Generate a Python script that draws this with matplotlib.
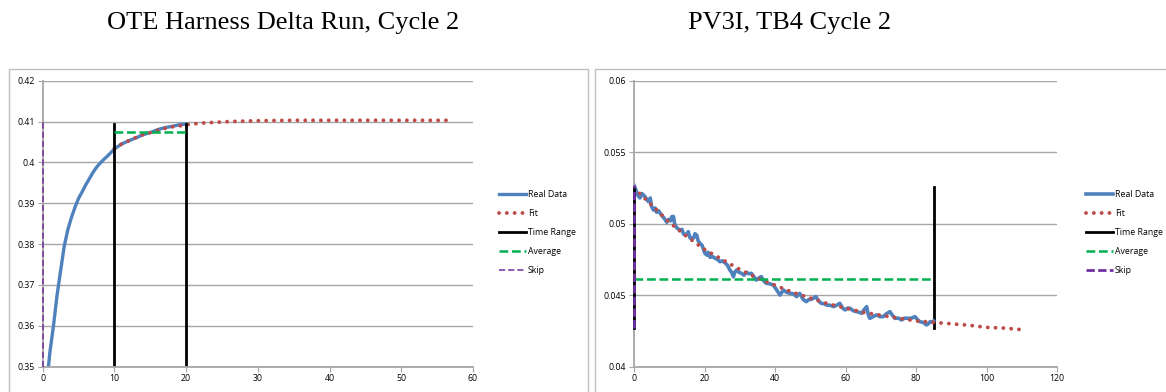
import matplotlib
matplotlib.use("Agg")
import matplotlib.pyplot as plt
from matplotlib.patches import Rectangle
from matplotlib.ticker import FuncFormatter, MultipleLocator

# ---- left chart: OTE Harness Delta Run, Cycle 2 ----
left_title = "OTE Harness Delta Run, Cycle 2"
left_real_x = [0.8, 1.0, 1.5, 2.0, 2.5, 3.0, 3.5, 4.0, 4.5, 5.0, 5.5, 6.0, 6.5, 7.0,
               7.5, 8.0, 8.5, 9.0, 9.5, 10, 11, 12, 13, 14, 15, 16, 17, 18, 19, 20]
left_real_y = [0.350, 0.3535, 0.360, 0.3675, 0.3735, 0.3795, 0.3835, 0.3865, 0.389,
               0.3912, 0.3928, 0.3945, 0.396, 0.3975, 0.3988, 0.3998, 0.4007, 0.4015,
               0.4024, 0.4033, 0.4045, 0.4053, 0.4060, 0.4068, 0.4073, 0.4080, 0.4085,
               0.4088, 0.4092, 0.4094]
left_fit_x = [10, 11, 12, 13, 14, 15, 16, 17, 18, 19, 20, 22, 24, 26, 28, 30, 35, 40, 45, 50, 57]
left_fit_y = [0.4034, 0.4045, 0.4053, 0.4061, 0.4068, 0.4073, 0.4078, 0.4083, 0.4087,
              0.4089, 0.4092, 0.4096, 0.4098, 0.4100, 0.4101, 0.4102, 0.4103, 0.4103,
              0.4103, 0.4103, 0.4103]
left_range_x = [10, 20]
left_range_y = [0.35, 0.4095]
left_avg = 0.4074
left_skip_y = [0.35, 0.4105]

# ---- right chart: PV3I, TB4 Cycle 2 ----
right_title = "PV3I, TB4 Cycle 2"
right_real_x = [0.0, 0.5, 1.0, 1.7, 2.3, 3.1, 3.6, 4.1, 4.6, 5.0, 5.5, 6.0, 6.4, 7.0, 7.8,
                8.5, 9.3, 9.8, 10.4, 10.7, 11.2, 11.6, 12.2, 13.0, 13.6, 14.0, 14.5, 15.0,
                15.4, 15.9, 16.3, 16.9, 17.3, 17.8, 18.2, 18.7, 19.3, 20.1, 20.7, 21.0,
                21.6, 22.3, 23.0, 23.7, 24.4, 25.0, 25.8, 26.5, 27.2, 27.7, 28.2, 28.6,
                29.1, 29.8, 30.5, 31.2, 31.9, 32.6, 33.3, 34.0, 34.7, 35.4, 36.1, 36.8,
                37.5, 38.5, 39.5, 40.4, 41.4, 42.4, 43.3, 44.3, 45.2, 46.1, 47.0, 48.0,
                48.9, 49.6, 50.3, 51.0, 51.6, 52.4, 53.1, 54.0, 54.6, 55.6, 56.6, 57.5,
                58.4, 59.2, 59.9, 60.6, 61.3, 62.3, 63.2, 63.9, 64.6, 65.3, 66.0, 66.5,
                66.9, 67.8, 68.8, 69.8, 70.7, 71.6, 72.6, 73.3, 74.0, 75.0, 75.9, 76.8,
                77.8, 78.8, 79.7, 80.4, 81.1, 82.0, 83.0, 83.5, 84.0, 84.6, 85.0]
right_real_y = [0.0527, 0.0524, 0.0520, 0.0518, 0.0521, 0.0519, 0.0517, 0.05154, 0.0518,
                0.0512, 0.05096, 0.0511, 0.0508, 0.0509, 0.0506, 0.0504, 0.0501, 0.0503,
                0.0502, 0.05049, 0.0505, 0.0499, 0.0497, 0.04956, 0.0496, 0.0493, 0.0492,
                0.0493, 0.04944, 0.0490, 0.04898, 0.0490, 0.0493, 0.0492, 0.0488, 0.04863,
                0.0485, 0.04793, 0.0478, 0.0480, 0.04765, 0.0477, 0.04758, 0.0475, 0.04734,
                0.0474, 0.04727, 0.0471, 0.04676, 0.0466, 0.04629, 0.0466, 0.04676, 0.0466,
                0.04653, 0.0464, 0.0466, 0.0465, 0.04653, 0.0463, 0.04606, 0.0462, 0.0463,
                0.0460, 0.04583, 0.0458, 0.04571, 0.0454, 0.04501, 0.04536, 0.0452, 0.04513,
                0.0451, 0.0449, 0.04513, 0.0447, 0.04455, 0.0447, 0.04471, 0.0448, 0.0449,
                0.0446, 0.04443, 0.0444, 0.04431, 0.0443, 0.0442, 0.0443, 0.04443, 0.0441,
                0.04397, 0.0441, 0.04408, 0.0439, 0.04385, 0.0438, 0.04373, 0.0440, 0.0442,
                0.0436, 0.04338, 0.0435, 0.04362, 0.0435, 0.0435, 0.0437, 0.04385, 0.0436,
                0.04338, 0.0434, 0.04327, 0.0434, 0.04338, 0.0434, 0.0435, 0.0433, 0.04315,
                0.0431, 0.04292, 0.0430, 0.04315, 0.0431, 0.0432]
right_fit_x = [0, 5, 10, 15, 20, 25, 30, 35, 40, 45, 50, 55, 60, 65, 70, 75, 80, 85, 90,
               95, 100, 105, 111]
right_fit_y = [0.0525, 0.0513, 0.0501, 0.0491, 0.0482, 0.0475, 0.0468, 0.0462, 0.0457,
               0.0452, 0.0448, 0.0444, 0.0441, 0.0438, 0.0436, 0.0434, 0.0432, 0.0431,
               0.0430, 0.0429, 0.04275, 0.0427, 0.04257]
right_range_x = [0, 85]
right_range_y = [0.04268, 0.05259]
right_avg = 0.04611
right_skip_y = [0.04268, 0.0527]

legend_labels = ["Real Data", "Fit", "Time Range", "Average", "Skip"]

BLUE = "#4F81BD"
RED = "#BE4B48"
GREEN = "#00B050"
PURPLE = "#7030A0"
GRID = "#A6A6A6"
AXIS = "#A6A6A6"

W, H = 1166, 392
fig = plt.figure(figsize=(W / 100, H / 100), dpi=100)


def px_axes(x0, x1, ytop, ybot):
    return fig.add_axes([x0 / W, 1 - ybot / H, (x1 - x0) / W, (ybot - ytop) / H])


def style(ax, xmax, xstep, ymin, ymax, ystep):
    ax.set_xlim(0, xmax)
    ax.set_ylim(ymin, ymax)
    ax.xaxis.set_major_locator(MultipleLocator(xstep))
    ax.yaxis.set_major_locator(MultipleLocator(ystep))
    ax.yaxis.set_major_formatter(FuncFormatter(lambda v, p: "%g" % round(v, 4)))
    ax.grid(axis="y", color=GRID, lw=1.0)
    ax.set_axisbelow(True)
    for s in ["top", "right"]:
        ax.spines[s].set_visible(False)
    for s in ["left", "bottom"]:
        ax.spines[s].set_color(AXIS)
        ax.spines[s].set_linewidth(1.3)
    ax.tick_params(length=3.5, width=0.8, color=AXIS, labelsize=6.3,
                   labelcolor="#000000", pad=2)
    for lab in ax.get_xticklabels() + ax.get_yticklabels():
        lab.set_family("Open Sans")


def add_legend(ax, handles, xanchor):
    ax.legend(handles, legend_labels, loc="center left", bbox_to_anchor=(xanchor, 0.47),
              frameon=False, handlelength=3.1, handletextpad=0.15,
              labelspacing=1.15, borderpad=0,
              prop={"family": "Open Sans", "size": 6.3})


def frame(x0, x1, y0, y1):
    fig.patches.append(Rectangle((x0 / W, 1 - y1 / H), (x1 - x0) / W, (y1 - y0) / H,
                                 transform=fig.transFigure, fill=False,
                                 edgecolor="#BFBFBF", lw=1.0))


frame(8.5, 588, 68.5, 400)
frame(594.5, 1172, 68.5, 400)

dot = (0, (0.01, 2.0))

# left chart
ax1 = px_axes(42.7, 473, 80.7, 366.7)
h_real, = ax1.plot(left_real_x, left_real_y, color=BLUE, lw=2.4)
h_fit, = ax1.plot(left_fit_x, left_fit_y, color=RED, lw=2.8, ls=dot, dash_capstyle="round")
for xv in left_range_x:
    h_rng, = ax1.plot([xv, xv], left_range_y, color="black", lw=2.0)
h_avg, = ax1.plot(left_range_x, [left_avg, left_avg], color=GREEN, lw=1.8, ls=(0, (3.5, 1.5)))
h_skip, = ax1.plot([0, 0], left_skip_y, color=PURPLE, lw=1.1, ls=(0, (4, 2)),
                   zorder=5, clip_on=False)
style(ax1, 60, 10, 0.35, 0.42, 0.01)
add_legend(ax1, [h_real, h_fit, h_rng, h_avg, h_skip], 1.051)

# right chart
ax2 = px_axes(634, 1057, 80.7, 366.7)
h_rng2, = ax2.plot([right_range_x[0]] * 2, right_range_y, color="black", lw=2.0,
                   clip_on=False, zorder=4)
ax2.plot([right_range_x[1]] * 2, right_range_y, color="black", lw=2.0)
h_real2, = ax2.plot(right_real_x, right_real_y, color=BLUE, lw=2.6)
h_fit2, = ax2.plot(right_fit_x, right_fit_y, color=RED, lw=2.8, ls=dot, dash_capstyle="round")
h_avg2, = ax2.plot(right_range_x, [right_avg, right_avg], color=GREEN, lw=1.8,
                   ls=(0, (3.5, 1.5)))
h_skip2, = ax2.plot([0, 0], right_skip_y, color=PURPLE, lw=2.0, ls=(0, (3, 1.2)),
                    clip_on=False, zorder=5)
style(ax2, 120, 20, 0.04, 0.06, 0.005)
add_legend(ax2, [h_real2, h_fit2, h_rng2, h_avg2, h_skip2], 1.059)

fig.text(283 / W, 1 - 23 / H, left_title, ha="center", va="center",
         family="Liberation Serif", fontsize=19)
fig.text(790 / W, 1 - 23 / H, right_title, ha="center", va="center",
         family="Liberation Serif", fontsize=19)

fig.savefig("out.png", dpi=100)
